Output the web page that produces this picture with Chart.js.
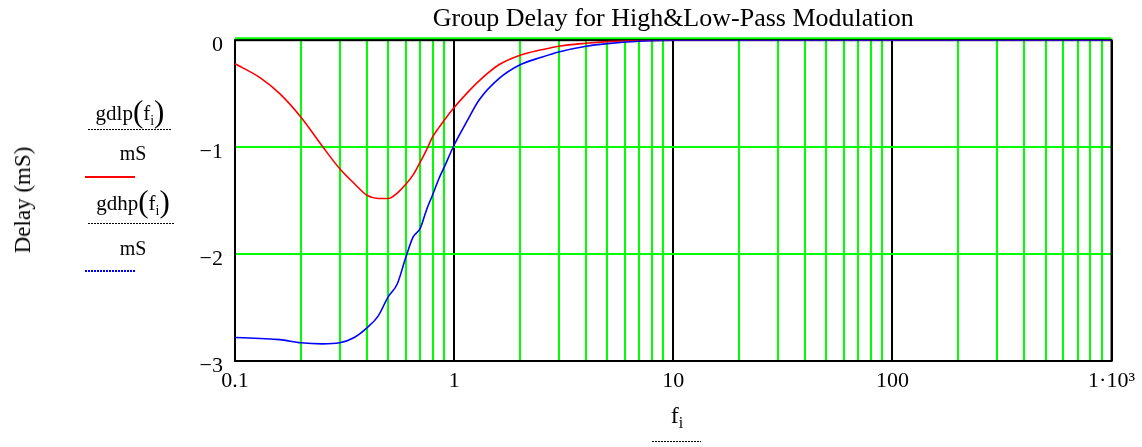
<!DOCTYPE html>
<html>
<head>
<meta charset="utf-8">
<script src="https://cdn.jsdelivr.net/npm/chart.js@4/dist/chart.umd.min.js"></script>
<style>
  body { margin: 0; background: #fff; }
  #wrap { position: relative; width: 1142px; height: 447px; font-family: 'Liberation Serif', 'Times New Roman', serif; color: #000; }
  #chart { position: absolute; left: 0; top: 0; }
  .lbl { position: absolute; font-size: 20px; line-height: 24px; white-space: nowrap; text-align: center; }
  .fn { font-size: 21px; }
  .lbl sub { font-size: 14px; vertical-align: -5px; line-height: 0; }
  .par { font-size: 31px; line-height: 0; vertical-align: -2px; }
  .dots { position: absolute; height: 1px; background: repeating-linear-gradient(90deg, #000 0 2px, transparent 2px 3px); }
  .swatch { position: absolute; height: 2px; }
  #ytitle { position: absolute; left: 23px; top: 200px; font-size: 23px; transform: translate(-50%, -50%) rotate(-90deg); white-space: nowrap; }
</style>
</head>
<body>
<div id="wrap">
  <canvas id="chart" width="1142" height="447"></canvas>
  <div id="ytitle">Delay (mS)</div>

  <div class="lbl fn" style="left:80px; width:100px; top:101px;">gdlp<span class="par">(</span>f<sub>i</sub><span class="par">)</span></div>
  <div class="dots" style="left:88px; width:84px; top:129px;"></div>
  <div class="lbl" style="left:83px; width:100px; top:141px;">mS</div>
  <div class="swatch" style="left:85px; width:50px; top:176px; background:#ff0000;"></div>

  <div class="lbl fn" style="left:83px; width:100px; top:191px;">gdhp<span class="par">(</span>f<sub>i</sub><span class="par">)</span></div>
  <div class="dots" style="left:88px; width:87px; top:223px;"></div>
  <div class="lbl" style="left:83px; width:100px; top:236px;">mS</div>
  <div class="swatch" style="left:85px; width:50px; top:270px; background:repeating-linear-gradient(90deg, #0000ff 0 2px, transparent 2px 3px);"></div>

  <div class="lbl" style="left:627px; width:100px; top:403px; font-size:24px;">f<sub style="font-size:16px;">i</sub></div>
  <div class="dots" style="left:652px; width:49px; top:441px;"></div>
</div>

<script>
// frequency samples (log axis) and the two group delay curves, in mS
const freq = [0.1, 0.13, 0.16, 0.2, 0.25, 0.3, 0.35, 0.4, 0.45, 0.5, 0.55, 0.6, 0.65, 0.7, 0.75, 0.8, 0.85, 0.9, 1.0, 1.15, 1.3, 1.6, 2, 2.5, 3, 4, 5, 7, 10, 20, 50, 100, 1000];
const gdlp = [-0.22, -0.35, -0.50, -0.72, -0.99, -1.20, -1.34, -1.45, -1.48, -1.48, -1.43, -1.35, -1.26, -1.14, -1.02, -0.90, -0.82, -0.75, -0.63, -0.49, -0.38, -0.23, -0.14, -0.09, -0.056, -0.028, -0.013, -0.003, 0, 0, 0, 0, 0];
const gdhp = [-2.78, -2.79, -2.80, -2.83, -2.84, -2.83, -2.78, -2.69, -2.58, -2.40, -2.28, -2.04, -1.84, -1.76, -1.58, -1.44, -1.30, -1.19, -0.98, -0.75, -0.56, -0.36, -0.23, -0.16, -0.11, -0.056, -0.032, -0.01, 0, 0, 0, 0, 0];

const decadeTicks = [0.1, 1, 10, 100, 1000];
const decadeLabels = ['0.1', '1', '10', '100', '1\u00b710\u00b3'];
const minorSteps = [2, 3, 4, 5, 6, 7, 8, 9];
const yTicks = [0, -1, -2, -3];
const yLabels = ['0', '\u22121', '\u22122', '\u22123'];

const xTicks = [];
decadeTicks.forEach((d, i) => {
  xTicks.push(d);
  if (i < decadeTicks.length - 1) minorSteps.forEach(m => xTicks.push(d * m));
});

const toPoints = ys => freq.map((f, i) => ({ x: f, y: ys[i] }));

const frame = {
  id: 'frame',
  beforeDatasetsDraw(chart) {
    const { ctx, chartArea: a } = chart;
    ctx.save();
    ctx.strokeStyle = '#00ff00';
    ctx.lineWidth = 2;
    ctx.beginPath();
    ctx.moveTo(a.left, a.top - 2);
    ctx.lineTo(a.right, a.top - 2);
    ctx.stroke();
    ctx.strokeStyle = '#000';
    ctx.strokeRect(a.left, a.top, a.right - a.left, a.bottom - a.top);
    ctx.restore();
  }
};

const ctx = document.getElementById('chart').getContext('2d');

new Chart(ctx, {
  type: 'scatter',
  data: {
    datasets: [{
      label: 'gdlp',
      data: toPoints(gdlp),
      showLine: true,
      borderColor: '#ff0000',
      borderWidth: 1.6,
      pointRadius: 0,
      order: 1,
      cubicInterpolationMode: 'monotone'
    }, {
      label: 'gdhp',
      data: toPoints(gdhp),
      showLine: true,
      borderColor: '#0000ff',
      borderWidth: 1.6,
      pointRadius: 0,
      order: 0,
      cubicInterpolationMode: 'monotone'
    }]
  },
  options: {
    responsive: false,
    animation: false,
    devicePixelRatio: 1,
    layout: { padding: { left: 0, right: 29, top: 0, bottom: 0 } },
    plugins: {
      legend: { display: false },
      tooltip: { enabled: false },
      title: {
        display: true,
        fullSize: false,
        text: 'Group Delay for High&Low-Pass Modulation',
        color: '#000',
        font: { family: 'Liberation Serif', size: 26, weight: 'normal' },
        padding: { top: 4, bottom: 5 }
      }
    },
    scales: {
      x: {
        type: 'logarithmic',
        min: 0.1,
        max: 1000,
        afterBuildTicks: scale => { scale.ticks = xTicks.map(v => ({ value: v })); },
        afterFit: scale => { scale.height = 86; },
        border: { display: false },
        grid: {
          drawTicks: false,
          lineWidth: 2,
          color: c => decadeTicks.includes(c.tick && c.tick.value) ? '#000' : '#00ff00'
        },
        ticks: {
          autoSkip: false,
          maxRotation: 0,
          padding: 7,
          color: '#000',
          font: { family: 'Liberation Serif', size: 22 },
          callback: v => {
            const i = decadeTicks.indexOf(v);
            return i >= 0 ? decadeLabels[i] : '';
          }
        }
      },
      y: {
        min: -3,
        max: 0,
        afterBuildTicks: scale => { scale.ticks = yTicks.map(v => ({ value: v })); },
        afterFit: scale => { scale.width = 235; },
        border: { display: false },
        grid: { drawTicks: false, lineWidth: 2, color: '#00ff00' },
        ticks: {
          padding: 12,
          color: '#000',
          font: { family: 'Liberation Serif', size: 22, lineHeight: 0.45 },
          // empty first line pushes each label a few pixels below its grid line
          callback: v => ['', yLabels[yTicks.indexOf(v)]]
        }
      }
    }
  },
  plugins: [frame]
});
</script>
</body>
</html>
